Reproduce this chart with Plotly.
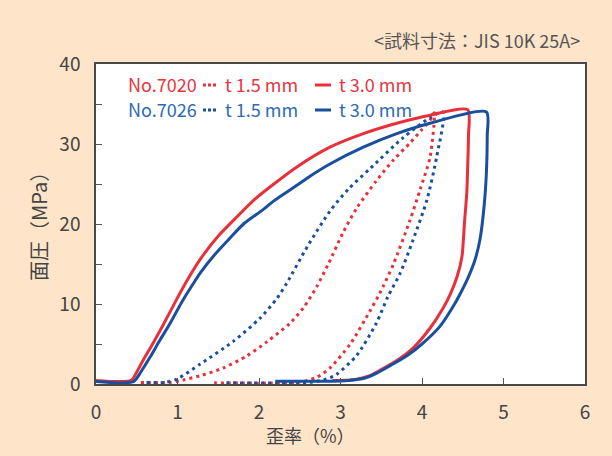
import plotly.graph_objects as go

# ---- data ----
red_t15_x = [0.55, 0.9, 1.07, 1.3, 1.56, 1.85, 2.1, 2.38, 2.55, 2.71, 2.85, 3.03, 3.2, 3.44, 3.65, 3.85, 4.0, 4.1, 4.15,
             4.1, 3.98, 3.85, 3.65, 3.48, 3.36, 3.12, 2.87, 2.71, 2.5, 1.45]
red_t15_y = [0.2, 0.2, 0.5, 1.1, 2.0, 3.5, 5.3, 7.6, 9.6, 12.2, 15.0, 18.9, 22.0, 25.4, 28.0, 30.1, 31.8, 33.0, 33.9,
             28.4, 24.4, 20.4, 15.0, 11.3, 9.1, 5.0, 2.0, 0.85, 0.25, 0.15]

blue_t15_x = [0.62, 0.85, 0.99, 1.28, 1.68, 2.01, 2.22, 2.34, 2.6, 2.87, 3.1, 3.36, 3.77, 4.1, 4.26,
              4.18, 4.06, 3.89, 3.73, 3.58, 3.44, 3.2, 2.95, 2.79, 2.6, 1.6]
blue_t15_y = [0.2, 0.2, 0.6, 2.5, 5.3, 8.2, 10.7, 12.6, 17.3, 21.6, 24.4, 26.9, 30.8, 33.3, 34.0,
              28.4, 23.0, 18.0, 13.8, 10.9, 7.6, 3.6, 1.2, 0.5, 0.2, 0.15]

red_t30_x = [0.0, 0.43, 0.5, 0.58, 0.7, 0.83, 0.97, 1.11, 1.28, 1.5, 1.73, 1.95, 2.17, 2.46, 2.87, 3.28, 3.69, 4.1, 4.56,
             4.57, 4.56, 4.55, 4.52, 4.49, 4.43, 4.35, 4.26, 4.1, 3.89, 3.7, 3.5, 3.35, 3.2, 3.0, 2.9]
red_t30_y = [0.45, 0.45, 1.5, 3.0, 5.1, 7.5, 10.2, 12.8, 15.6, 18.5, 20.9, 23.1, 24.9, 27.1, 29.6, 31.3, 32.6, 33.6, 34.3,
             31.0, 27.0, 24.0, 20.0, 15.9, 13.4, 11.3, 9.5, 7.0, 4.5, 3.0, 1.8, 1.0, 0.6, 0.45, 0.45]

blue_t30_x = [0.0, 0.46, 0.55, 0.66, 0.78, 0.91, 1.05, 1.19, 1.28, 1.45, 1.64, 1.81, 2.05, 2.17, 2.46, 2.63, 2.87, 3.28, 3.69, 4.1, 4.79,
              4.8, 4.79, 4.76, 4.71, 4.65, 4.57, 4.48, 4.4, 4.22, 4.0, 3.81, 3.61, 3.45, 3.3, 3.1, 2.8, 2.2]
blue_t30_y = [0.3, 0.3, 1.5, 3.3, 5.4, 7.6, 10.2, 12.5, 13.9, 16.1, 18.2, 20.0, 21.8, 22.8, 24.8, 26.0, 27.5, 29.6, 31.3, 32.6, 34.0,
              31.0, 26.4, 22.0, 18.0, 15.5, 13.4, 11.5, 10.0, 7.2, 5.0, 3.5, 2.3, 1.4, 0.75, 0.45, 0.35, 0.35]

x_ticks = [0, 1, 2, 3, 4, 5, 6]
y_ticks = [0, 5, 10, 15, 20, 25, 30, 35, 40]
y_ticktext = ["0", "", "10", "", "20", "", "30", "", "40"]

RED = "#e8303a"
BLUE = "#1a4f9e"
RED_TXT = "#e8363f"
BLUE_TXT = "#2e6bb4"
FONT = "Noto Sans CJK JP"

fig = go.Figure()
dot = "3px,4px"
for xs, ys, col, dsh in [(red_t15_x, red_t15_y, RED, dot), (blue_t15_x, blue_t15_y, BLUE, dot),
                         (red_t30_x, red_t30_y, RED, "solid"), (blue_t30_x, blue_t30_y, BLUE, "solid")]:
    fig.add_trace(go.Scatter(x=xs, y=ys, mode="lines", hoverinfo="skip",
                             line=dict(color=col, width=3, dash=dsh, shape="spline", smoothing=0.7)))

W, H = 612, 456
L, R, T, B = 96, 27, 64, 72
pw, ph = W - L - R, H - T - B


def px(xp):
    return (xp - L) / pw


def py(yp):
    return (H - B - yp) / ph


annotations = []
shapes = []
rows = [("No.7020", RED_TXT, RED, 84), ("No.7026", BLUE_TXT, BLUE, 109)]
for name, tcol, lcol, yc in rows:
    for txt, xl in [(name, 126), ("t 1.5 mm", 223), ("t 3.0 mm", 337)]:
        annotations.append(dict(x=px(xl), y=py(yc), xref="paper", yref="paper", text=txt,
                                showarrow=False, xanchor="left", yanchor="middle",
                                font=dict(size=18, color=tcol, family=FONT)))
    shapes.append(dict(type="line", xref="paper", yref="paper", x0=px(203), x1=px(216),
                       y0=py(yc + 1), y1=py(yc + 1), line=dict(color=lcol, width=3, dash="3px,2px")))
    shapes.append(dict(type="line", xref="paper", yref="paper", x0=px(315), x1=px(331),
                       y0=py(yc + 1), y1=py(yc + 1), line=dict(color=lcol, width=3)))

annotations.append(dict(x=px(582), y=py(40), xref="paper", yref="paper",
                        text="&lt;試料寸法：JIS 10K 25A&gt;", showarrow=False,
                        xanchor="right", yanchor="middle",
                        font=dict(size=18, color="#555555", family=FONT)))
annotations.append(dict(x=px(310), y=py(435), xref="paper", yref="paper",
                        text="歪率（%）", showarrow=False, xanchor="center", yanchor="middle",
                        font=dict(size=18, color="#444444", family=FONT)))
annotations.append(dict(x=px(38), y=py(222), xref="paper", yref="paper",
                        text="面圧（MPa）", showarrow=False, xanchor="center", yanchor="middle",
                        textangle=-90, font=dict(size=20, color="#444444", family=FONT)))

fig.update_layout(
    width=W, height=H,
    margin=dict(l=L, r=R, t=T, b=B, pad=0),
    paper_bgcolor="#fee5ca",
    plot_bgcolor="#ffffff",
    showlegend=False,
    hovermode=False,
    font=dict(family=FONT, color="#444444", size=19),
    annotations=annotations,
    shapes=shapes,
)
fig.update_xaxes(range=[0, 6], tickvals=x_ticks, ticks="inside", ticklen=6, tickcolor="#555555",
                 showgrid=False, zeroline=False, showline=True, linecolor="#4a4a4a", linewidth=1.5,
                 mirror=True, ticklabelstandoff=10, tickfont=dict(size=19, color="#444444"))
fig.update_yaxes(range=[0, 40], tickvals=y_ticks, ticktext=y_ticktext, ticks="inside", ticklen=6,
                 tickcolor="#555555", showgrid=False, zeroline=False, showline=True, linecolor="#4a4a4a",
                 linewidth=1.5, mirror=True, ticklabelstandoff=10, tickfont=dict(size=19, color="#444444"))

fig.write_html("out.html", config={"displayModeBar": False},
               post_script="document.body.style.margin='0';document.body.style.background='#fee5ca';")
